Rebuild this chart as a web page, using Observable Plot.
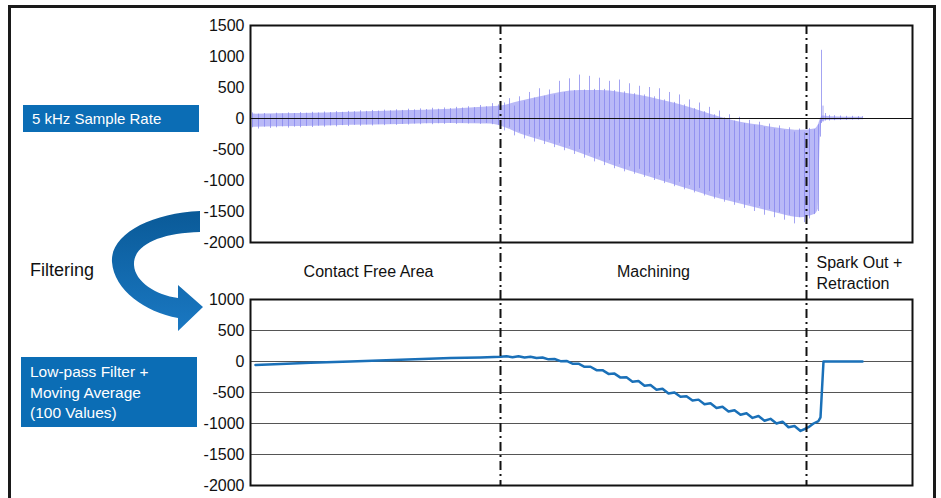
<!DOCTYPE html>
<html><head><meta charset="utf-8">
<script src="https://cdn.jsdelivr.net/npm/d3@7"></script>
<script src="https://cdn.jsdelivr.net/npm/@observablehq/plot@0.6"></script>
<style>
html,body{margin:0;padding:0;background:#fff;overflow:hidden}
#wrap{position:relative;width:941px;height:498px;overflow:hidden;font-family:"Liberation Sans",Arial,sans-serif;color:#111}
#frame{position:absolute;left:8px;top:5px;width:928px;height:520px;border:3px solid #1a1a1a;box-sizing:border-box}
#top,#bot{position:absolute;left:0}
#top{top:0}
#bot{top:290px}
.box{position:absolute;background:#0b6db5;color:#fff;font-size:15px;box-sizing:border-box}
#filt{position:absolute;left:30px;top:260px;font-size:18px;color:#111}
#arrow{position:absolute;left:0;top:0}
</style>
</head><body>
<div id="wrap">
  <div id="frame"></div>
  <div id="top"></div>
  <div id="bot"></div>
  <div class="box" style="left:23px;top:105px;width:176px;height:27px;padding:5px 0 0 9px;">5 kHz Sample Rate</div>
  <div id="filt">Filtering</div>
  <div class="box" style="left:21px;top:357px;width:176px;height:70px;padding:5px 0 0 9px;line-height:20.5px;font-size:15.5px;">Low-pass Filter +<br>Moving Average<br>(100 Values)</div>
  <svg id="arrow" width="941" height="498">
    <defs>
      <linearGradient id="ag" x1="0" y1="0" x2="0" y2="1">
        <stop offset="0" stop-color="#0a5a98"/>
        <stop offset="1" stop-color="#1a78c2"/>
      </linearGradient>
    </defs>
    <path fill="url(#ag)" d="M 200 211 C 150 213, 110 235, 112 262 C 114 290, 145 312, 178 318 L 178 331 L 203 307 L 178 285 L 178 298 C 156 295, 135 282, 134 265 C 133 245, 160 233, 200 232 Z"/>
  </svg>
</div>
<script>
// ---- data ----
// phase boundaries (time units) and labels
const phaseBounds = [25.0, 55.6];
const phaseNames = ["Contact Free Area", "Machining"];
const phaseNameT = [11.8, 40.3];
const sparkLabel = "Spark Out +\nRetraction";
const sparkT = 56.6;

// top panel: raw signal (5 kHz) — body envelope of the oscillation
const bodyT  = [0.2, 5, 10, 15, 20, 24, 25, 27, 29, 31, 33, 35, 37, 39, 41, 43, 45, 47, 49, 51, 53, 55, 56.4, 56.8, 57.0, 57.2, 58, 61.2];
const bodyHi = [70, 80, 100, 125, 150, 190, 200, 280, 350, 420, 450, 450, 420, 370, 300, 220, 120, 20, -60, -110, -160, -190, -170, -100, -10, 40, 30, 20];
const bodyLo = [-140, -130, -110, -95, -80, -90, -120, -250, -350, -450, -560, -680, -800, -900, -1000, -1100, -1200, -1300, -1380, -1460, -1540, -1600, -1550, -1450, -250, -50, -30, -20];

// top panel: individual oscillation peaks (upper / lower extremes)
const topT = [0.2,0.8,1.4,2.0,2.6,3.2,3.8,4.4,5.0,5.6,6.2,6.8,7.4,8.0,8.6,9.2,9.8,10.4,11.0,11.6,12.2,12.8,13.4,14.0,14.6,15.2,15.8,16.4,17.0,17.6,18.2,18.8,19.4,20.0,20.6,21.2,21.8,22.4,23.0,23.6,24.2,24.8,
  25.4,25.9,26.4,26.9,27.4,27.9,28.4,28.9,29.4,29.9,30.4,30.9,31.4,31.9,32.4,32.9,33.4,33.9,34.4,34.9,35.4,35.9,36.4,36.9,37.4,37.9,38.4,38.9,39.4,39.9,40.4,40.9,41.4,41.9,42.4,42.9,43.4,43.9,44.4,44.9,45.4,45.9,46.4,46.9,47.4,47.9,48.4,48.9,49.4,49.9,50.4,50.9,51.4,51.9,52.4,52.9,53.4,53.9,54.4,54.9,55.4,55.9,56.4,56.8,
  57.0,57.1,57.25,57.5,57.9,58.4,59.0,59.6,60.2,60.8,61.2];
const topHi = [90,70,80,60,85,75,90,80,95,85,100,90,105,95,110,100,115,110,125,115,130,120,135,125,140,130,150,140,155,145,165,150,170,160,180,170,190,175,210,190,240,220,
  250,320,200,350,280,420,330,480,360,460,380,600,420,640,450,700,460,680,470,650,470,600,450,620,430,560,400,520,380,500,350,480,300,420,260,380,220,300,160,250,110,180,60,120,10,60,-40,20,-80,-30,-110,-60,-140,-90,-170,-120,-190,-150,-220,-170,-230,-160,-180,-100,
  -20,1100,200,80,50,45,40,35,35,30,30];
const topLo = [-150,-170,-140,-160,-150,-135,-155,-140,-150,-130,-145,-125,-140,-120,-135,-115,-130,-110,-125,-105,-120,-100,-115,-95,-110,-95,-105,-90,-100,-85,-100,-85,-95,-80,-95,-80,-90,-75,-95,-80,-100,-110,
  -200,-150,-280,-220,-330,-260,-380,-300,-420,-350,-470,-400,-520,-450,-580,-500,-640,-560,-700,-620,-760,-680,-810,-740,-860,-780,-900,-820,-950,-880,-1000,-920,-1050,-980,-1100,-1030,-1150,-1080,-1200,-1130,-1250,-1180,-1300,-1220,-1350,-1280,-1400,-1330,-1450,-1380,-1500,-1420,-1560,-1470,-1600,-1520,-1640,-1560,-1700,-1600,-1680,-1620,-1550,-1500,
  -300,-80,-60,-40,-40,-35,-30,-30,-25,-25,-20];

// bottom panel: filtered signal
const botT = [0.5,3,6,10,15,20,23,25.0,25.6,26.2,26.8,27.4,28.0,28.6,29.2,29.8,30.4,31.0,31.6,32.2,32.8,33.4,34.0,34.6,35.2,35.8,36.4,37.0,37.6,38.2,38.8,39.4,40.0,40.6,41.2,41.8,42.4,43.0,43.6,44.2,44.8,45.4,46.0,46.6,47.2,47.8,48.4,49.0,49.6,50.2,50.8,51.4,52.0,52.6,53.2,53.8,54.4,55.0,55.4,55.8,56.3,56.8,57.0,57.3,61.2];
const botV = [-55,-40,-20,0,30,55,65,75,85,70,85,65,78,55,65,35,40,5,10,-35,-35,-85,-85,-140,-140,-200,-195,-260,-255,-325,-315,-390,-380,-455,-440,-515,-500,-570,-560,-630,-615,-690,-675,-750,-730,-805,-785,-860,-835,-910,-880,-955,-925,-1000,-970,-1060,-1040,-1120,-1090,-1060,-1000,-960,-900,0,0];

// tick labels
const topTicks = [1500,1000,500,0,-500,-1000,-1500,-2000];
const botTicks = [1000,500,0,-500,-1000,-1500,-2000];

// ---- tables ----
const bodyData = bodyT.map((t,i) => ({t, hi: bodyHi[i], lo: bodyLo[i]}));
const topRaw = topT.map((t,i) => ({t, hi: topHi[i], lo: topLo[i]}));
const botData = botT.map((t,i) => ({t, v: botV[i]}));
const phaseText = phaseNames.map((label,i) => ({label, t: phaseNameT[i]}));

const FONT = '"Liberation Sans", Arial, sans-serif';
const dash = "9,4,2,4";

const topPlot = Plot.plot({
  width: 941, height: 290,
  marginLeft: 250, marginRight: 29, marginTop: 25, marginBottom: 48,
  x: {domain: [0, 66.2], axis: null},
  y: {domain: [-2000, 1500], axis: null, label: null},
  style: {fontFamily: FONT, fontSize: "16px", color: "#111", background: "transparent", overflow: "visible"},
  marks: [
    Plot.areaY(bodyData, {x: "t", y1: "lo", y2: "hi", fill: "#b9b9f7", curve: "monotone-x"}),
    Plot.ruleX(topRaw, {x: "t", y1: "lo", y2: "hi", stroke: "#8585ee", strokeOpacity: 0.75, strokeWidth: 1}),
    Plot.ruleY([0], {stroke: "#111", strokeWidth: 1}),
    Plot.axisY(topTicks, {tickSize: 0, tickPadding: 6, tickFormat: d => String(d), fontSize: 16, label: null}),
    Plot.frame({stroke: "#111", strokeWidth: 2}),
    Plot.ruleX(phaseBounds, {y1: 1500, y2: -2774, stroke: "#111", strokeWidth: 2, strokeDasharray: dash}),
    Plot.text(phaseText, {x: "t", y: -2468, text: "label", fontSize: 16, fill: "#111"}),
    Plot.text([sparkLabel], {x: sparkT, y: -2468, text: d => d, textAnchor: "start", lineHeight: 1.3, fontSize: 16, fill: "#111"})
  ]
});
document.getElementById("top").append(topPlot);

const botPlot = Plot.plot({
  width: 941, height: 208,
  marginLeft: 250, marginRight: 29, marginTop: 9, marginBottom: 13,
  x: {domain: [0, 66.2], axis: null},
  y: {domain: [-2000, 1000], axis: null, label: null},
  style: {fontFamily: FONT, fontSize: "16px", color: "#111", background: "transparent", overflow: "visible"},
  marks: [
    Plot.ruleY(botTicks, {stroke: "#555", strokeWidth: 1.2}),
    Plot.line(botData, {x: "t", y: "v", stroke: "#1a70b8", strokeWidth: 2.5}),
    Plot.axisY(botTicks, {tickSize: 0, tickPadding: 6, tickFormat: d => String(d), fontSize: 16, label: null}),
    Plot.frame({stroke: "#111", strokeWidth: 2}),
    Plot.ruleX(phaseBounds, {y1: 1145, y2: -2000, stroke: "#111", strokeWidth: 2, strokeDasharray: dash})
  ]
});
document.getElementById("bot").append(botPlot);
</script>
</body></html>
